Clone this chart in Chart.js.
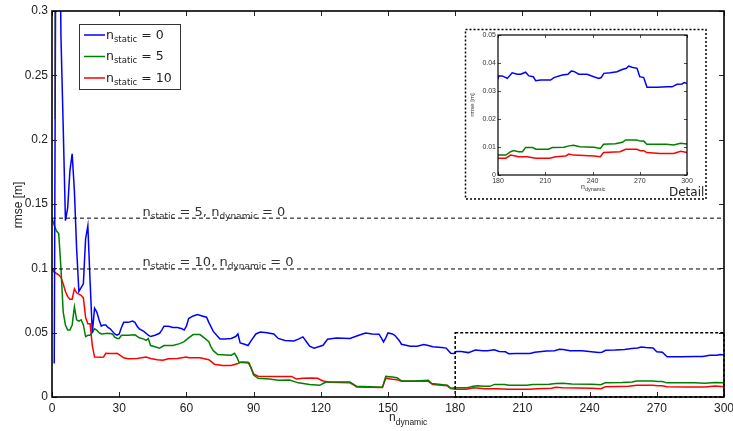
<!DOCTYPE html>
<html><head><meta charset="utf-8">
<script src="https://cdn.jsdelivr.net/npm/chart.js@4"></script>
<style>
html,body{margin:0;padding:0;background:#fff;}
#wrap{position:relative;width:733px;height:431px;overflow:hidden;}
#main{position:absolute;left:0;top:0;width:733px;height:431px;}
#inset{position:absolute;left:464px;top:28px;width:244px;height:173px;}
</style></head><body>
<div id="wrap"><canvas id="main" width="733" height="431"></canvas><canvas id="inset" width="244" height="173"></canvas></div>
<script>
// ---- data (n_dynamic, rmse [m]) ----
const blueN = [1,2,3,4,5,6,7,8,9,10,11,12,13,14,15,16,17,18,19,20,21,22,23,24,25,26,27,28,29,30,31,32,34,36,37,38,39,41,43,44,46,48,49,50,52,54,56,58,59,60,61,63,65,67,69,70,72,74,75,77,80,82,83,84,86,87.5,89,91,93,96,99,101,104,108,110,112,114,115,117,119,121,123,127,133,137,140,143,146,147,148,149,150,152,153,155,156,160,163,166,168,170,174,176,177,178,179.5,180.5,182.7,185.9,189,192.3,194.4,197.5,199.6,202.4,203.9,207,213.4,215.5,220.8,224.4,226.5,228.2,231.3,236.6,240.8,244,245.5,247.2,251.4,255.6,258.8,261.5,263,265.1,268.3,270,272.5,274.6,281,287.3,290.5,293.7,296.8,298.3,300];
const blueV = [0.026,0.5,0.45,0.28,0.21,0.137,0.147,0.176,0.189,0.16,0.115,0.082,0.085,0.088,0.123,0.133,0.09,0.05,0.069,0.066,0.06,0.055,0.056,0.056,0.054,0.053,0.051,0.049,0.048,0.049,0.054,0.058,0.058,0.059,0.058,0.055,0.053,0.051,0.048,0.047,0.048,0.0495,0.052,0.055,0.055,0.054,0.054,0.053,0.052,0.055,0.061,0.063,0.064,0.063,0.062,0.058,0.051,0.047,0.045,0.045,0.0455,0.047,0.049,0.042,0.041,0.040,0.044,0.049,0.0505,0.050,0.049,0.0455,0.044,0.0436,0.045,0.0467,0.042,0.0395,0.038,0.039,0.0402,0.0449,0.0459,0.0455,0.048,0.0498,0.049,0.0488,0.046,0.0428,0.046,0.0498,0.049,0.048,0.044,0.041,0.0395,0.0394,0.0407,0.040,0.039,0.0385,0.038,0.036,0.034,0.0338,0.0354,0.0354,0.0345,0.0365,0.036,0.036,0.0367,0.0354,0.0351,0.0337,0.0339,0.0339,0.0348,0.0357,0.036,0.0371,0.037,0.036,0.036,0.0351,0.0345,0.0348,0.0363,0.0365,0.0369,0.0377,0.0381,0.0389,0.0385,0.0381,0.0351,0.0348,0.0313,0.0313,0.0315,0.0315,0.0324,0.0325,0.033,0.0327];

const greenN = [0,1,2,3,4,5,6,7,8,9,10,11,12,13,14,15,16,17,18,19,20,21,22,25,27,28,29,30,31,34,37,39,41,42,43,44,46,48,50,54,57,59,61,63,66,68,70,71,72,74,80,81.5,82.5,83.5,88,89,90,92,97,101,106,110,115,119.5,121,122.5,133,135,136,147.5,149,152,154,156,162,168,169.5,176.5,178,180,185,188,190,193,195.5,197.5,202,204,212,214.5,222,225,228,232,241,245,247,254.5,259,261,268,270.5,272.5,274.5,287,291.5,296,300];
const greenV = [0.139,0.1335,0.129,0.127,0.1,0.066,0.056,0.052,0.052,0.056,0.07,0.06,0.059,0.06,0.056,0.047,0.048,0.048,0.05,0.053,0.052,0.05,0.049,0.0495,0.049,0.0465,0.0455,0.0455,0.048,0.048,0.0483,0.046,0.045,0.044,0.0455,0.040,0.039,0.038,0.040,0.040,0.0415,0.043,0.046,0.0485,0.0485,0.046,0.043,0.039,0.036,0.033,0.0325,0.034,0.031,0.027,0.0265,0.022,0.017,0.0145,0.014,0.013,0.0132,0.011,0.0098,0.0091,0.0105,0.0117,0.0116,0.0095,0.0083,0.0075,0.016,0.0155,0.015,0.0125,0.0125,0.013,0.0105,0.0092,0.0068,0.0071,0.0071,0.0083,0.0087,0.0083,0.0083,0.0098,0.0098,0.0092,0.0092,0.0098,0.0099,0.0104,0.0106,0.0101,0.0099,0.0095,0.011,0.0112,0.0117,0.0125,0.0125,0.0121,0.0121,0.011,0.011,0.0107,0.0113,0.0111];

const redN = [0,1,2,3,4,5,6,7,8,9,10,11,12,13,14,15,16,17,18,19,22,23,24,26,28,29,30,32,34,38,42,44,47,49.5,52,56,60,61,66,70,72.5,76,80,83,84.5,87.5,89,90,92,100,107,109,112,116,118.5,121,124,133,135,136,147.5,149,152,154,156,168,170,176.5,178,180,185,188,191,193,198.5,204,213,216.5,223,225,228,241,245,247,257.5,261,268,270.5,272.5,274.5,283,291.5,296,300];
const redV = [0.0995,0.097,0.096,0.095,0.093,0.088,0.082,0.078,0.076,0.076,0.084,0.081,0.08,0.079,0.077,0.062,0.057,0.057,0.04,0.031,0.0308,0.031,0.034,0.0338,0.0338,0.034,0.033,0.0305,0.0298,0.030,0.031,0.030,0.029,0.0285,0.0298,0.030,0.031,0.0305,0.0305,0.029,0.0255,0.0245,0.0245,0.026,0.0272,0.027,0.022,0.018,0.0162,0.016,0.016,0.014,0.0145,0.0148,0.0145,0.0125,0.0115,0.011,0.009,0.0078,0.0073,0.0145,0.0138,0.0135,0.0122,0.0122,0.0097,0.0087,0.0065,0.006,0.006,0.0071,0.0068,0.0065,0.0065,0.006,0.006,0.0065,0.0068,0.0075,0.0071,0.0068,0.0065,0.008,0.0083,0.0092,0.0092,0.0087,0.0087,0.008,0.0077,0.0077,0.0085,0.008];

// stray dark segment near n_dynamic = 1
const strayN = [1.35,1.35];
const strayV = [0.32,0.216];

// reference levels (n_dynamic = 0)
const refN = [0,300];
const refStatic5 = [0.139,0.139];
const refStatic10 = [0.0995,0.0995];

const xTicksMain = [0,30,60,90,120,150,180,210,240,270,300];
const yTicksMain = [0,0.05,0.1,0.15,0.2,0.25,0.3];
const xTicksInset = [180,210,240,270,300];
const yTicksInset = [0,0.01,0.02,0.03,0.04,0.05];
const detailBox = {x0:180, x1:300, y0:0, y1:0.05};

const legendItems = [
  {color:'#0000ff', main:'n', sub:'static', rest:' = 0'},
  {color:'#008000', main:'n', sub:'static', rest:' = 5'},
  {color:'#ff0000', main:'n', sub:'static', rest:' = 10'}
];

const xy = (ns, vs) => ns.map((n,i)=>({x:n,y:vs[i]}));
const fmt = v => String(+v.toFixed(3));

function drawParts(ctx, x, y, parts, size, subSize, family, subDy){
  for (const [t, sub] of parts){
    ctx.font = (sub?subSize:size)+'px '+family;
    ctx.fillText(t, x, sub ? y+subDy : y);
    x += ctx.measureText(t).width;
  }
  return x;
}

function lineDs(ns, vs, color, w, dash){
  return {data: xy(ns,vs), borderColor: color, borderWidth: w, pointRadius:0, tension:0, fill:false, borderDash: dash||[], spanGaps:true};
}

function drawTicks(chart, xt, yt, len, color, lw){
  const {ctx, chartArea:a, scales:{x,y}} = chart;
  ctx.save(); ctx.strokeStyle=color; ctx.lineWidth=lw; ctx.beginPath();
  for (const v of xt){ const px=Math.round(x.getPixelForValue(v))+0.5;
    ctx.moveTo(px,a.bottom); ctx.lineTo(px,a.bottom-len);
    ctx.moveTo(px,a.top); ctx.lineTo(px,a.top+len); }
  for (const v of yt){ const py=Math.round(y.getPixelForValue(v))+0.5;
    ctx.moveTo(a.left,py); ctx.lineTo(a.left+len,py);
    ctx.moveTo(a.right,py); ctx.lineTo(a.right-len,py); }
  ctx.stroke(); ctx.restore();
}

const noEdgePad = s => { s.paddingLeft=0; s.paddingRight=0; s.paddingTop=0; s.paddingBottom=0; };

const mainDeco = {
  id:'mainDeco',
  afterDatasetsDraw(chart){
    const {ctx, chartArea:a, scales:{x,y}} = chart;
    // detail dashed rectangle
    ctx.save();
    ctx.strokeStyle='#000'; ctx.lineWidth=1.5; ctx.setLineDash([3,2]);
    const x0=x.getPixelForValue(detailBox.x0), x1=x.getPixelForValue(detailBox.x1);
    const y0=y.getPixelForValue(detailBox.y0), y1=y.getPixelForValue(detailBox.y1);
    ctx.strokeRect(x0, y1, x1-x0, y0-y1);
    ctx.restore();
    drawTicks(chart, xTicksMain, yTicksMain, 5, '#222', 1);
    // axes box
    ctx.save(); ctx.strokeStyle='#000'; ctx.lineWidth=1.6;
    ctx.strokeRect(a.left, a.top, a.right-a.left, a.bottom-a.top); ctx.restore();
    // reference line labels
    ctx.save(); ctx.fillStyle='#333'; ctx.textBaseline='alphabetic';
    const tx = x.getPixelForValue(40.4);
    drawParts(ctx, tx, y.getPixelForValue(0.139)-2.5, [['n',0],['static',1],[' = 5, n',0],['dynamic',1],[' = 0',0]], 13, 9, '"DejaVu Sans"', 3);
    drawParts(ctx, tx, y.getPixelForValue(0.0995)-2.5, [['n',0],['static',1],[' = 10, n',0],['dynamic',1],[' = 0',0]], 13, 9, '"DejaVu Sans"', 3);
    ctx.restore();
    // legend
    ctx.save();
    ctx.fillStyle='#fff'; ctx.fillRect(79.5,24.5,101,65);
    ctx.strokeStyle='#333'; ctx.lineWidth=1; ctx.strokeRect(79.5,24.5,101,65);
    legendItems.forEach((it,i)=>{
      const cy = 35 + i*21.5;
      ctx.strokeStyle=it.color; ctx.lineWidth=1.5; ctx.beginPath(); ctx.moveTo(84,cy); ctx.lineTo(105,cy); ctx.stroke();
      ctx.fillStyle='#222';
      drawParts(ctx, 106, cy+3.5, [[it.main,0],[it.sub,1],[it.rest,0]], 12.5, 8.5, '"DejaVu Sans"', 3.3);
    });
    ctx.restore();
    // axis titles
    ctx.save(); ctx.fillStyle='#222';
    ctx.font='12px "Liberation Sans", Arial, sans-serif';
    ctx.translate(21.5, 205); ctx.rotate(-Math.PI/2); ctx.textAlign='center'; ctx.fillText('rmse [m]',0,0);
    ctx.restore();
    ctx.save(); ctx.fillStyle='#222';
    drawParts(ctx, 389, 421, [['n',0],['dynamic',1]], 12, 8.5, '"Liberation Sans", Arial, sans-serif', 3.5);
    ctx.restore();
  }
};

const tickFont = {family:'"Liberation Sans", Arial, sans-serif', size:12};

new Chart(document.getElementById('main'), {
  type:'line',
  data:{datasets:[
    lineDs(refN, refStatic5, '#000', 1, [4,3]),
    lineDs(refN, refStatic10, '#000', 1, [4,3]),
    lineDs(strayN, strayV, '#333', 1.2),
    lineDs(blueN, blueV, '#0000ff', 1.5),
    lineDs(greenN, greenV, '#008000', 1.5),
    lineDs(redN, redV, '#ff0000', 1.5)
  ]},
  options:{
    responsive:false, animation:false, devicePixelRatio:1,
    layout:{padding:{top:11,right:9,left:0,bottom:0}},
    plugins:{legend:{display:false}, tooltip:{enabled:false}},
    scales:{
      x:{type:'linear', min:0, max:300,
        afterBuildTicks:s=>{s.ticks=xTicksMain.map(v=>({value:v}));},
        afterFit:s=>{s.height=34; noEdgePad(s);},
        grid:{display:false, drawTicks:false}, border:{display:false},
        ticks:{font:tickFont, color:'#222', padding:4, maxRotation:0, autoSkip:false, callback:v=>fmt(v)}},
      y:{type:'linear', min:0, max:0.3,
        afterBuildTicks:s=>{s.ticks=yTicksMain.map(v=>({value:v}));},
        afterFit:s=>{s.width=52; noEdgePad(s);},
        grid:{display:false, drawTicks:false}, border:{display:false},
        ticks:{font:tickFont, color:'#222', padding:4, autoSkip:false, callback:v=>fmt(v)}}
    }
  },
  plugins:[mainDeco]
});

const insetDeco = {
  id:'insetDeco',
  beforeDraw(chart){
    const {ctx} = chart;
    ctx.save(); ctx.fillStyle='#fff'; ctx.fillRect(0,0,chart.width,chart.height);
    ctx.strokeStyle='#000'; ctx.lineWidth=1.5; ctx.setLineDash([2,2]);
    ctx.strokeRect(1.5,1.5,240.5,169.5); ctx.restore();
  },
  afterDatasetsDraw(chart){
    const {ctx, chartArea:a} = chart;
    drawTicks(chart, xTicksInset, yTicksInset, 3, '#222', 0.8);
    ctx.save(); ctx.strokeStyle='#000'; ctx.lineWidth=1.2;
    ctx.strokeRect(a.left, a.top, a.right-a.left, a.bottom-a.top); ctx.restore();
    ctx.save(); ctx.fillStyle='#333';
    ctx.font='6px "Liberation Sans", Arial, sans-serif';
    ctx.translate(9.5, 77); ctx.rotate(-Math.PI/2); ctx.textAlign='center'; ctx.fillText('rmse [m]',0,0);
    ctx.restore();
    ctx.save(); ctx.fillStyle='#333';
    drawParts(ctx, 117, 161, [['n',0],['dynamic',1]], 7, 5.5, '"Liberation Sans", Arial, sans-serif', 2);
    ctx.fillStyle='#222'; ctx.font='12px "DejaVu Sans"'; ctx.fillText('Detail', 205, 168);
    ctx.restore();
  }
};

const insetFont = {family:'"Liberation Sans", Arial, sans-serif', size:7};
new Chart(document.getElementById('inset'), {
  type:'line',
  data:{datasets:[
    lineDs(blueN, blueV, '#0000ff', 1.5),
    lineDs(greenN, greenV, '#008000', 1.5),
    lineDs(redN, redV, '#ff0000', 1.5)
  ]},
  options:{
    responsive:false, animation:false, devicePixelRatio:1,
    layout:{padding:{top:7,right:21,left:0,bottom:0}},
    plugins:{legend:{display:false}, tooltip:{enabled:false}},
    scales:{
      x:{type:'linear', min:180, max:300,
        afterBuildTicks:s=>{s.ticks=xTicksInset.map(v=>({value:v}));},
        afterFit:s=>{s.height=26; noEdgePad(s);},
        grid:{display:false, drawTicks:false}, border:{display:false},
        ticks:{font:insetFont, color:'#333', padding:2, maxRotation:0, autoSkip:false, callback:v=>fmt(v)}},
      y:{type:'linear', min:0, max:0.05,
        afterBuildTicks:s=>{s.ticks=yTicksInset.map(v=>({value:v}));},
        afterFit:s=>{s.width=34; noEdgePad(s);},
        grid:{display:false, drawTicks:false}, border:{display:false},
        ticks:{font:insetFont, color:'#333', padding:2, autoSkip:false, callback:v=>fmt(v)}}
    }
  },
  plugins:[insetDeco]
});
</script>
</body></html>
